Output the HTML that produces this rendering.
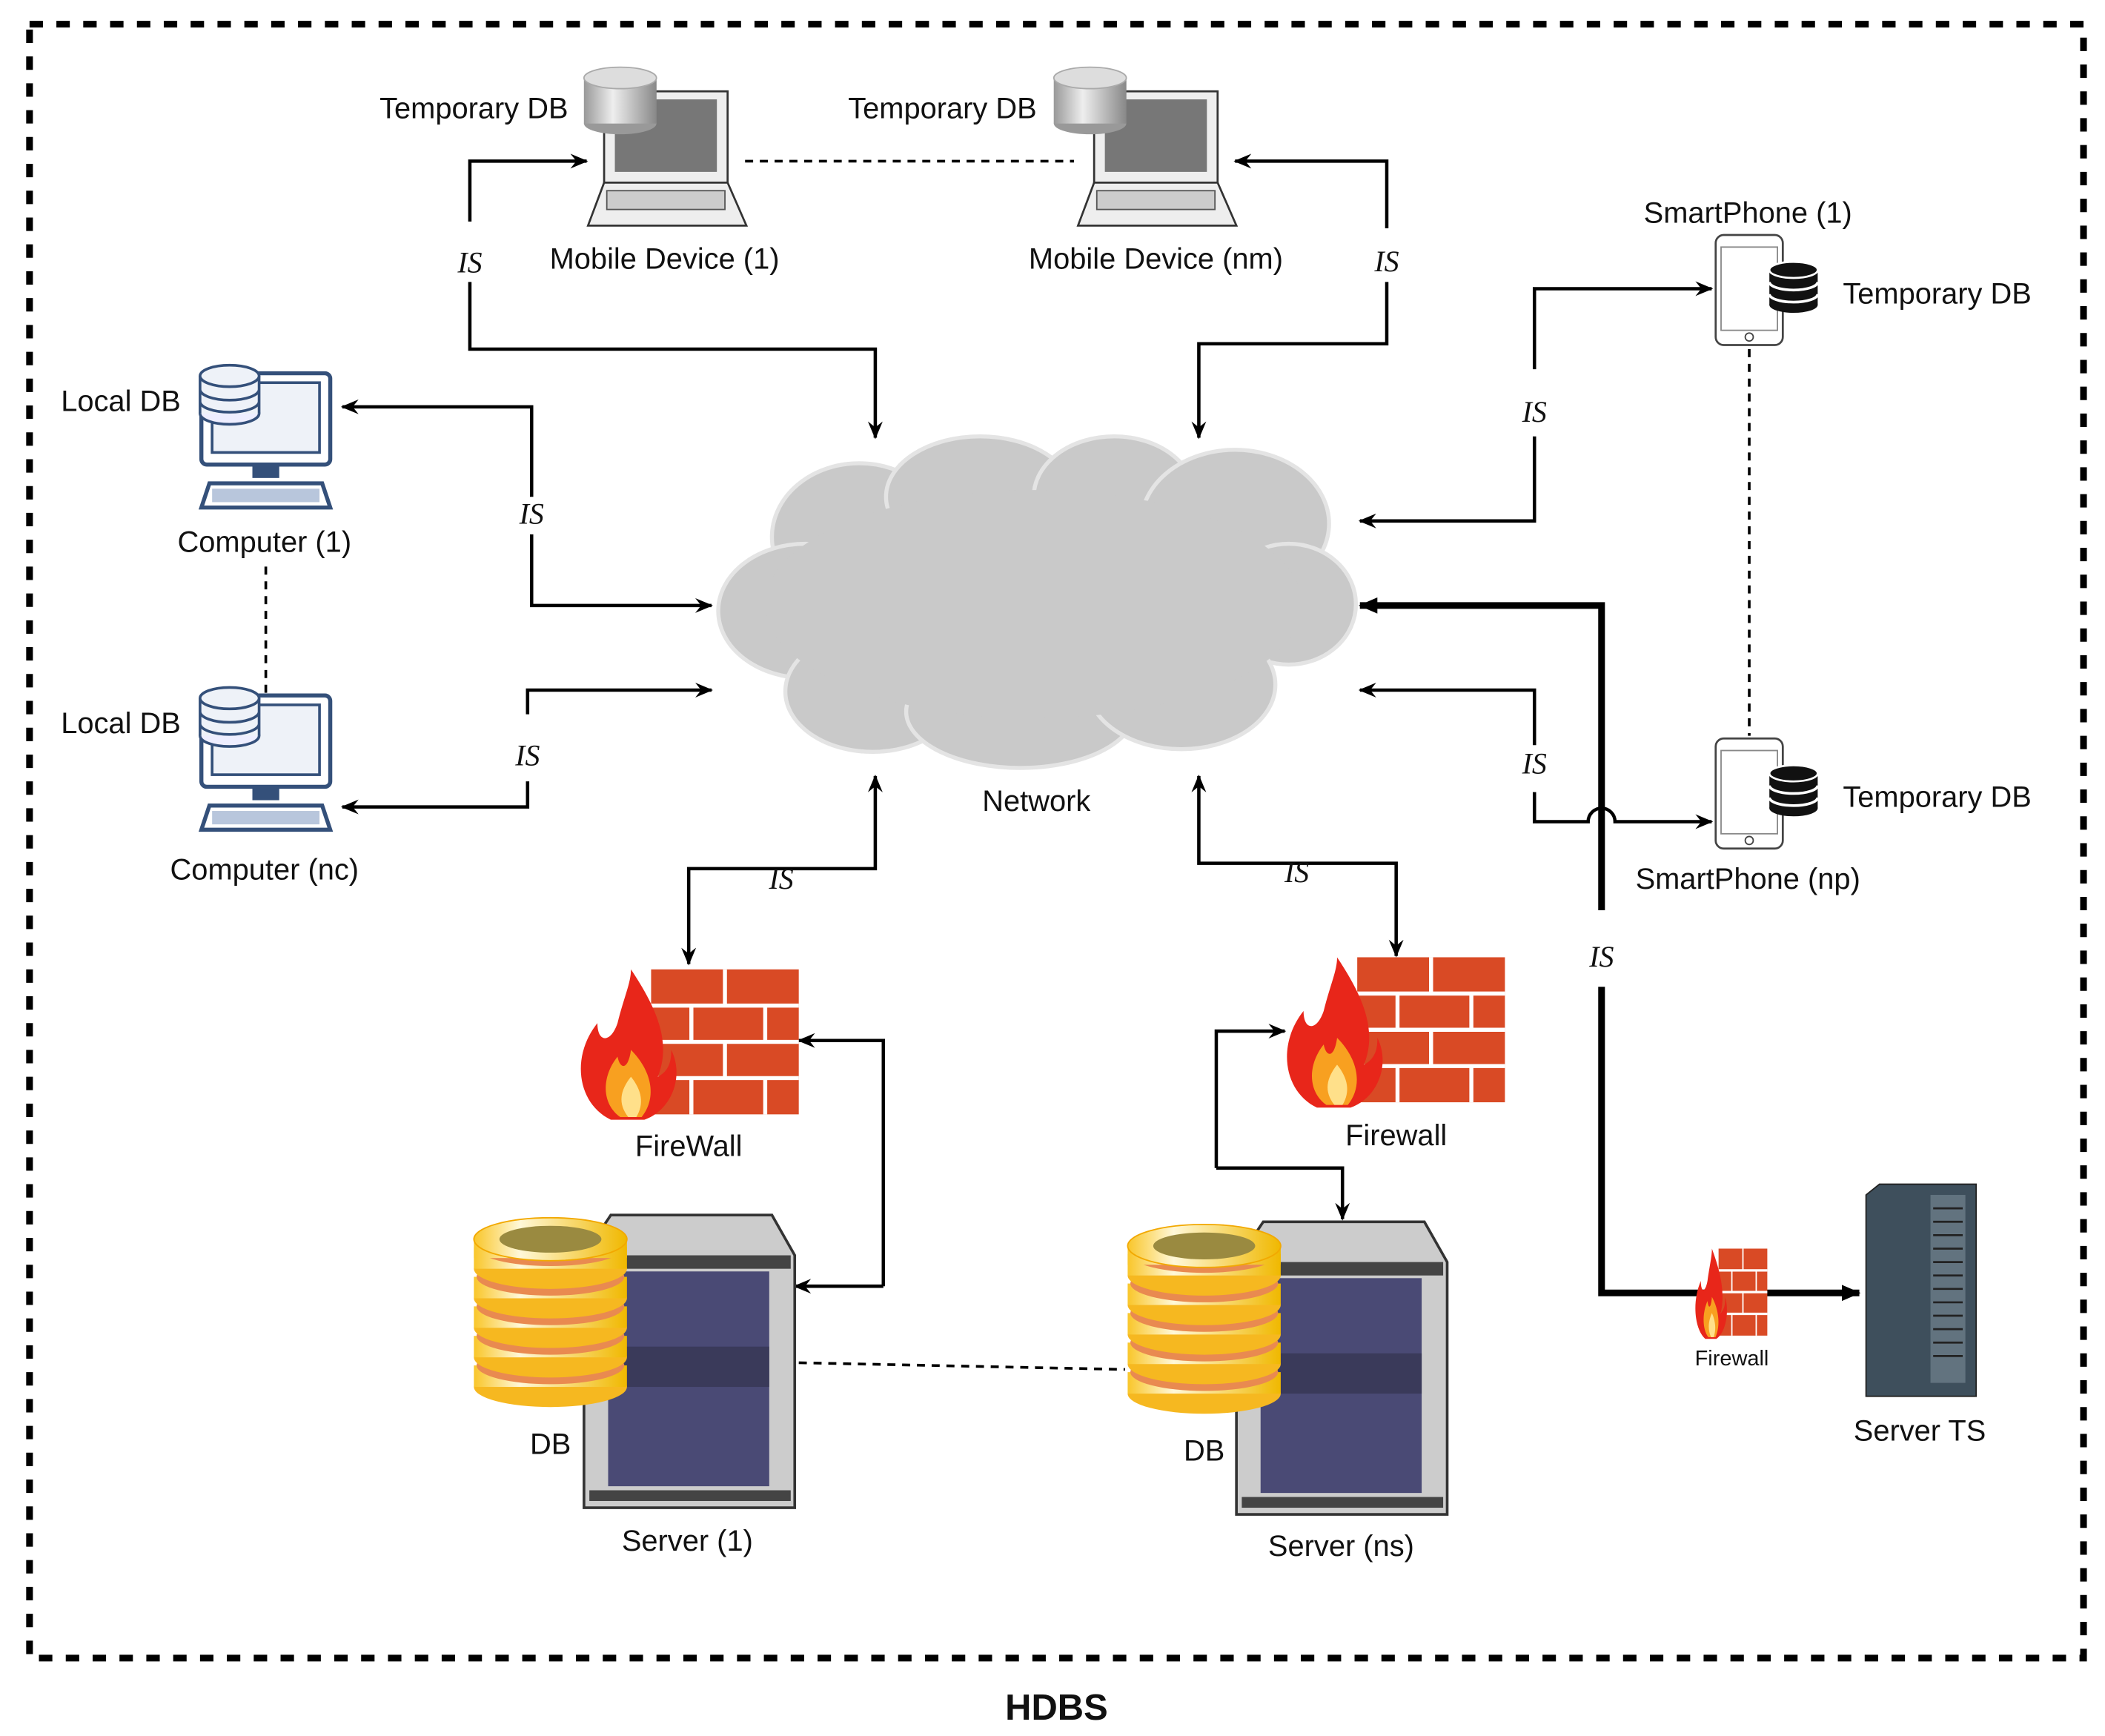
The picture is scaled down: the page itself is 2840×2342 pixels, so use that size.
<!DOCTYPE html>
<html><head><meta charset="utf-8">
<style>html,body{margin:0;padding:0;background:#fff}svg{display:block}
text{font-family:"Liberation Sans",sans-serif;font-size:22px;fill:#111}
.is{font-family:"Liberation Serif",serif;font-style:italic;font-size:22px}
</style></head><body>
<svg width="2840" height="2342" viewBox="0 0 1568 1293" xmlns="http://www.w3.org/2000/svg">
<defs>
<marker id="ar" viewBox="0 0 12 10" refX="11" refY="5" markerWidth="14" markerHeight="11" markerUnits="userSpaceOnUse" orient="auto-start-reverse">
<path d="M0,0 L12,5 L0,10 L4,5Z" fill="#000"/></marker>
<marker id="ar2" viewBox="0 0 14 12" refX="13" refY="6" markerWidth="16" markerHeight="12" markerUnits="userSpaceOnUse" orient="auto">
<path d="M0,0 L14,6 L0,12Z" fill="#000"/></marker>
<linearGradient id="gold" x1="0" x2="1"><stop offset="0" stop-color="#f9c62a"/><stop offset=".3" stop-color="#fff8d8"/><stop offset="1" stop-color="#f0b800"/></linearGradient>
<linearGradient id="cyl" x1="0" x2="1"><stop offset="0" stop-color="#999"/><stop offset=".4" stop-color="#eee"/><stop offset="1" stop-color="#888"/></linearGradient>
<g id="laptop">
<rect x="12" y="0" width="92" height="68" fill="#eee" stroke="#333" stroke-width="1.5"/>
<rect x="20" y="6" width="76" height="54" fill="#777"/>
<path d="M12,68 L104,68 L118,100 L0,100Z" fill="#eee" stroke="#333" stroke-width="1.5"/>
<rect x="14" y="74" width="88" height="14" fill="#ccc" stroke="#555"/>
</g>
<g id="cylg">
<rect x="0" y="8" width="54" height="34" fill="url(#cyl)"/>
<ellipse cx="27" cy="42" rx="27" ry="8" fill="#999"/>
<rect x="0" y="8" width="54" height="34" fill="url(#cyl)"/>
<ellipse cx="27" cy="8" rx="27" ry="8" fill="#ddd" stroke="#aaa"/>
</g>
<g id="comp">
<rect x="0" y="0" width="96" height="68" rx="4" fill="#fff" stroke="#34507a" stroke-width="3"/>
<rect x="8" y="7" width="80" height="52" fill="#eef2f8" stroke="#34507a" stroke-width="2"/>
<rect x="38" y="68" width="20" height="10" fill="#34507a"/>
<path d="M6,82 L90,82 L96,100 L0,100Z" fill="#fff" stroke="#34507a" stroke-width="3"/>
<rect x="8" y="86" width="80" height="10" fill="#b8c6dc"/>
</g>
<g id="dbs">
<ellipse cx="22" cy="36" rx="22" ry="8" fill="#eef" stroke="#34507a" stroke-width="2"/>
<rect x="0" y="8" width="44" height="28" fill="#eef2f8"/>
<path d="M0,8 V36 M44,8 V36 M0,18 A22,8 0 0 0 44,18 M0,27 A22,8 0 0 0 44,27" fill="none" stroke="#34507a" stroke-width="2"/>
<ellipse cx="22" cy="8" rx="22" ry="8" fill="#eef2f8" stroke="#34507a" stroke-width="2"/>
</g>
<g id="phone">
<rect x="0" y="0" width="50" height="82" rx="6" fill="#fff" stroke="#444" stroke-width="1.5"/>
<rect x="4" y="9" width="42" height="62" fill="#fff" stroke="#888"/>
<circle cx="25" cy="76" r="3" fill="none" stroke="#444"/>
<g transform="translate(40,20)">
<ellipse cx="18" cy="32" rx="18" ry="6" fill="#111"/><rect x="0" y="6" width="36" height="26" fill="#111"/>
<path d="M0,15 A18,6 0 0 0 36,15 M0,24 A18,6 0 0 0 36,24" stroke="#fff" stroke-width="2" fill="none"/>
<ellipse cx="18" cy="6" rx="18" ry="6" fill="#111" stroke="#fff" stroke-width="1.5"/></g>
</g>
<g id="fw">
<rect x="55" y="0" width="110" height="108" fill="#d94a25"/>
<g stroke="#fff" stroke-width="3">
<path d="M55,27H165 M55,54H165 M55,81H165"/>
<path d="M110,0V27 M85,27V54 M140,27V54 M110,54V81 M85,81V108 M140,81V108"/></g>
<path d="M25,112 C0,100 -5,65 15,40 C15,55 25,55 30,40 C35,20 40,10 40,0 C60,30 70,55 60,80 C70,75 70,65 70,60 C80,80 70,105 50,112Z" fill="#e8261a"/>
<path d="M32,110 C18,100 18,80 30,65 C32,75 38,75 40,60 C55,75 60,95 48,110Z" fill="#f8a020"/>
<path d="M38,110 C30,100 32,90 40,80 C48,90 50,100 44,110Z" fill="#ffe08a"/>
</g>
<g id="db">
<g id="ring"><ellipse cx="57" cy="128" rx="57" ry="15" fill="#f6b820"/><rect x="0" y="112" width="114" height="16" fill="url(#gold)"/><ellipse cx="57" cy="112" rx="55" ry="14" fill="#e98a50"/></g>
<use href="#ring" y="-22"/><use href="#ring" y="-44"/><use href="#ring" y="-66"/><use href="#ring" y="-88"/>
<rect x="0" y="18" width="114" height="14" fill="url(#gold)"/>
<ellipse cx="57" cy="18" rx="57" ry="16" fill="url(#gold)" stroke="#f2a800"/>
<ellipse cx="57" cy="18" rx="38" ry="10" fill="#9a8a40"/>
</g>
<g id="rack">
<path d="M20,0 H140 L157,30 V218 H0 V30Z" fill="#ccc" stroke="#333" stroke-width="2"/>
<rect x="4" y="30" width="150" height="10" fill="#444"/>
<rect x="18" y="42" width="120" height="160" fill="#4a4a75"/>
<rect x="18" y="98" width="120" height="30" fill="#3a3a5a"/>
<rect x="4" y="205" width="150" height="8" fill="#444"/>
</g>
</defs>

<rect x="22" y="18" width="1530" height="1217" fill="none" stroke="#000" stroke-width="5" stroke-dasharray="10 10"/>
<text x="787" y="1281" text-anchor="middle" style="font-weight:bold;font-size:27px">HDBS</text>

<g fill="#c9c9c9" stroke="#e4e4e4" stroke-width="3">
<ellipse cx="640" cy="400" rx="65" ry="55"/><ellipse cx="730" cy="370" rx="70" ry="45"/><ellipse cx="830" cy="370" rx="60" ry="45"/>
<ellipse cx="920" cy="390" rx="70" ry="55"/><ellipse cx="960" cy="450" rx="50" ry="45"/><ellipse cx="600" cy="455" rx="65" ry="50"/>
<ellipse cx="650" cy="515" rx="65" ry="45"/><ellipse cx="760" cy="530" rx="85" ry="42"/><ellipse cx="880" cy="510" rx="70" ry="48"/>
</g>
<ellipse cx="770" cy="450" rx="200" ry="85" fill="#c9c9c9"/>
<text x="772" y="604" text-anchor="middle">Network</text>

<use href="#laptop" x="438" y="68"/><use href="#cylg" x="435" y="50"/>
<use href="#laptop" x="803" y="68"/><use href="#cylg" x="785" y="50"/>
<text x="353" y="88" text-anchor="middle">Temporary DB</text>
<text x="702" y="88" text-anchor="middle">Temporary DB</text>
<text x="495" y="200" text-anchor="middle">Mobile Device (1)</text>
<text x="861" y="200" text-anchor="middle">Mobile Device (nm)</text>
<line x1="555" y1="120" x2="800" y2="120" stroke="#000" stroke-width="2" stroke-dasharray="6 5"/>

<g fill="none" stroke="#000" stroke-width="2.5">
<path d="M350,165 V120 H437" marker-end="url(#ar)"/>
<path d="M350,210 V260 H652 V326" marker-end="url(#ar)"/>
<path d="M1033,170 V120 H920" marker-end="url(#ar)"/>
<path d="M1033,210 V256 H893 V326" marker-end="url(#ar)"/>
<path d="M396,370 V303 H255" marker-end="url(#ar)"/>
<path d="M396,398 V451 H530" marker-end="url(#ar)"/>
<path d="M393,532 V514 H530" marker-end="url(#ar)"/>
<path d="M393,582 V601 H255" marker-end="url(#ar)"/>
<path d="M1143,275 V215 H1275" marker-end="url(#ar)"/>
<path d="M1143,325 V388 H1013" marker-end="url(#ar)"/>
<path d="M1143,555 V514 H1013" marker-end="url(#ar)"/>
<path d="M1143,590 V612 H1183 A10,10 0 0 1 1203,612 H1275" marker-end="url(#ar)"/>
<path d="M652,578 V647 H513 V718" marker-start="url(#ar)" marker-end="url(#ar)"/>
<path d="M893,578 V643 H1040 V712" marker-start="url(#ar)" marker-end="url(#ar)"/>
<path d="M658,958 H592" marker-end="url(#ar)"/>
<path d="M658,958 V775 H595" marker-end="url(#ar)"/>
<path d="M906,870 V768 H957" marker-end="url(#ar)"/>
<path d="M906,870 H1000 V908" marker-end="url(#ar)"/>
</g>
<g fill="none" stroke="#000" stroke-width="5">
<path d="M1193,678 V451 H1013" marker-end="url(#ar2)"/>
<path d="M1193,735 V963 H1385" marker-end="url(#ar2)"/>
</g>
<g text-anchor="middle">
<text class="is" x="350" y="203">IS</text><text class="is" x="1033" y="202">IS</text>
<text class="is" x="396" y="390">IS</text><text class="is" x="393" y="570">IS</text>
<text class="is" x="1143" y="314">IS</text><text class="is" x="1143" y="576">IS</text>
<text class="is" x="1193" y="720">IS</text><text class="is" x="582" y="662">IS</text><text class="is" x="966" y="657">IS</text>
</g>

<use href="#comp" x="150" y="278"/><use href="#dbs" x="149" y="272"/>
<use href="#comp" x="150" y="518"/><use href="#dbs" x="149" y="512"/>
<text x="90" y="306" text-anchor="middle">Local DB</text>
<text x="90" y="546" text-anchor="middle">Local DB</text>
<text x="197" y="411" text-anchor="middle">Computer (1)</text>
<text x="197" y="655" text-anchor="middle">Computer (nc)</text>
<line x1="198" y1="422" x2="198" y2="520" stroke="#000" stroke-width="2" stroke-dasharray="6 5"/>

<use href="#phone" x="1278" y="175"/><use href="#phone" x="1278" y="550"/>
<text x="1302" y="166" text-anchor="middle">SmartPhone (1)</text>
<text x="1443" y="226" text-anchor="middle">Temporary DB</text>
<text x="1443" y="601" text-anchor="middle">Temporary DB</text>
<text x="1302" y="662" text-anchor="middle">SmartPhone (np)</text>
<line x1="1303" y1="260" x2="1303" y2="548" stroke="#000" stroke-width="2" stroke-dasharray="6 5"/>

<use href="#fw" x="430" y="722"/>
<text x="513" y="861" text-anchor="middle">FireWall</text>
<use href="#fw" x="956" y="713"/>
<text x="1040" y="853" text-anchor="middle">Firewall</text>
<g transform="translate(1262,930) scale(0.33,0.6)"><use href="#fw"/></g>
<text x="1290" y="1017" text-anchor="middle" style="font-size:16px">Firewall</text>

<path d="M1390,890 L1400,882 H1472 V1040 H1390Z" fill="#3e4f5c" stroke="#222"/>
<rect x="1438" y="890" width="26" height="140" fill="#62737f"/>
<g stroke="#222" stroke-width="1.5"><path d="M1440,900H1462M1440,910H1462M1440,920H1462M1440,930H1462M1440,940H1462M1440,950H1462M1440,960H1462M1440,970H1462M1440,980H1462M1440,990H1462M1440,1000H1462M1440,1010H1462"/></g>
<text x="1430" y="1073" text-anchor="middle">Server TS</text>

<use href="#rack" x="435" y="905"/><use href="#db" x="353" y="905"/>
<text x="410" y="1083" text-anchor="middle">DB</text>
<text x="512" y="1155" text-anchor="middle">Server (1)</text>
<use href="#rack" x="921" y="910"/><use href="#db" x="840" y="910"/>
<text x="897" y="1088" text-anchor="middle">DB</text>
<text x="999" y="1159" text-anchor="middle">Server (ns)</text>
<line x1="595" y1="1015" x2="838" y2="1020" stroke="#000" stroke-width="2" stroke-dasharray="6 5"/>
</svg>
</body></html>
